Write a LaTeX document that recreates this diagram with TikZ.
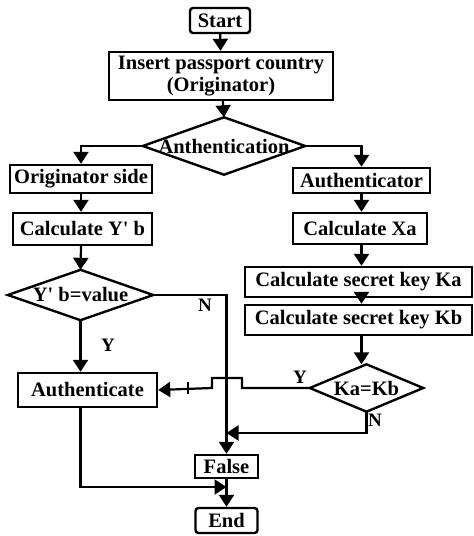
\documentclass[tikz,border=0pt]{standalone}
\usepackage{fontspec}
\setmainfont{Liberation Serif}
\usetikzlibrary{arrows.meta,calc}
\begin{document}
\begin{tikzpicture}[x=1pt,y=-1pt,
  every node/.style={font=\fontsize{20.5}{22}\selectfont\bfseries, inner sep=0pt, align=center},
  box/.style={draw, line width=2.4pt, minimum width=#1},
  rbox/.style={draw, line width=2.4pt, rounded corners=3pt, minimum width=#1},
  dia/.style={minimum width=#1},
  arr/.style={line width=2.2pt, -{Triangle[length=12pt,width=15pt]}},
  ln/.style={line width=2.2pt},
  lbl/.style={font=\fontsize{19}{20}\selectfont\bfseries}]
\useasboundingbox (0,0) rectangle (474,536);
\node[rbox=60, minimum height=25] (start) at (220,20.5) {Start};
\node[box=224, minimum height=48] (insert) at (221,76) {Insert passport country\\(Originator)};
\node[dia=162, minimum height=57] (auth) at (224,146) {Anthentication};
\node[box=142, minimum height=28] (orig) at (81,179) {Originator side};
\node[box=139, minimum height=32] (calcY) at (82.5,229) {Calculate Y\textquotesingle\ b};
\node[dia=145, minimum height=50] (ydia) at (80.5,295) {Y\textquotesingle\ b=value};
\node[box=139, minimum height=34] (authn) at (87.5,390) {Authenticate};
\node[box=137, minimum height=25] (authr) at (361.5,180.5) {Authenticator};
\node[box=134, minimum height=31] (calcXa) at (360,228.5) {Calculate Xa};
\node[box=227, minimum height=30] (calcKa) at (358.5,282) {Calculate secret key Ka};
\node[box=227, minimum height=30] (calcKb) at (358.5,320) {Calculate secret key Kb};
\node[dia=113, minimum height=47] (kdia) at (366.5,388) {Ka=Kb};
\node[box=63, minimum height=23] (false) at (226.5,466.5) {False};
\node[rbox=62, minimum height=25] (end) at (226.5,520.5) {End};
% diamonds
\foreach \d in {auth,ydia,kdia}
  \draw[line width=2.4pt] (\d.north) -- (\d.east) -- (\d.south) -- (\d.west) -- cycle;
% labels
\node[lbl] (n1) at (205,305) {N};
\node[lbl] (y1) at (108,345) {Y};
\node[lbl] (y2) at (300,377) {Y};
\node[lbl] (n2) at (375,420) {N};
% coordinates
\coordinate (j1) at (false.north |- 0,433);
\coordinate (j2) at (false.north |- 0,487);
\coordinate (b1) at (242,378);
\coordinate (b2) at (212,378);
\coordinate (tk) at (188,388);
% connectors
\draw[arr] (start) -- (insert);
\draw[arr] (insert) -- (auth.north);
\draw[arr] (auth.west) -| (orig.north);
\draw[arr] (auth.east) -| (authr.north);
\draw[arr] (orig.south) -- (orig.south |- calcY.north);
\draw[arr] (calcY.south -| orig.south) -- (ydia.north);
\draw[arr] (ydia.south) -- (ydia.south |- authn.north);
\draw[arr] (ydia.east) -| (false.north);
\draw[arr] (authr) -- (authr |- calcXa.north);
\draw[arr] (calcXa.south -| authr.south) -- (authr.south |- calcKa.north);
\draw[arr] (calcKa.south -| authr.south) -- (authr.south |- calcKb.north);
\draw[arr] (calcKb.south -| authr.south) -- (authr.south |- kdia.north);
\draw[arr] (kdia.west) -- (b1 |- kdia.west) -- (b1) -- (b2) -- (b2 |- kdia.west) -- (authn.east);
\draw[ln] ($(tk)+(0,-6)$) -- ($(tk)+(0,6)$);
\draw[arr] (kdia.south) |- (j1);
\draw[arr] (authn.south -| ydia.south) |- (j2);
\draw[arr] (false) -- (end);
\end{tikzpicture}
\end{document}
